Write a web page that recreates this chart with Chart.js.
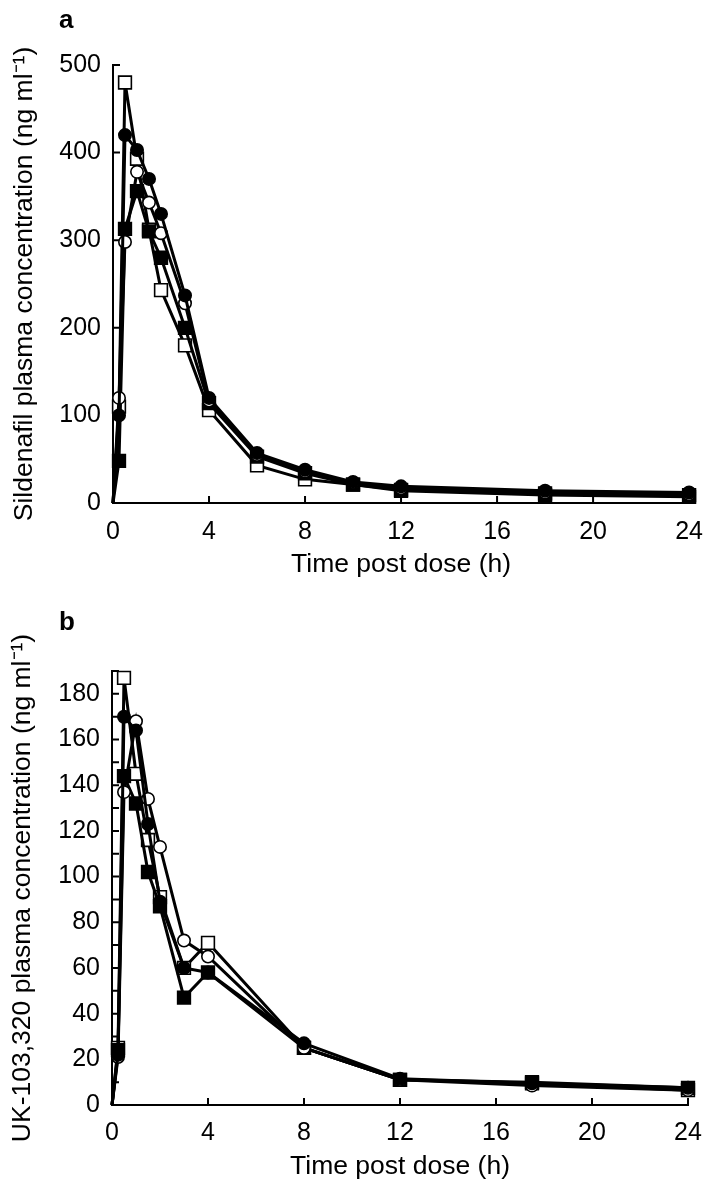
<!DOCTYPE html>
<html><head><meta charset="utf-8">
<script src="https://cdn.jsdelivr.net/npm/chart.js@4.4.1/dist/chart.umd.min.js"></script>
<style>
html,body{margin:0;padding:0;background:#fff;}
#wrap{position:relative;width:717px;height:1184px;overflow:hidden;}
.panel{position:absolute;left:0;width:717px;}
.lbl{position:absolute;font-family:"Liberation Sans",Arial,sans-serif;font-weight:bold;font-size:26px;color:#000;line-height:1;}
</style></head><body>
<div id="wrap">
<div class="panel" style="top:0;height:600px"><canvas id="ca" width="717" height="600"></canvas></div>
<div class="panel" style="top:600px;height:584px"><canvas id="cb" width="717" height="584"></canvas></div>
<div class="lbl" style="left:59px;top:6px">a</div>
<div class="lbl" style="left:59px;top:608px">b</div>
</div>
<script>
// ---- Panel a: sildenafil ----
const timeA = [0, 0.25, 0.5, 1, 1.5, 2, 3, 4, 6, 8, 10, 12, 18, 24];
const sildFilledCircle = [0, 100, 420, 403, 370, 330, 237, 120, 57, 38, 24, 19, 14, 12];
const sildOpenCircle   = [0, 120, 298, 378, 343, 308, 228, 117, 55, 36, 23, 17, 12, 10];
const sildFilledSquare = [0, 48, 313, 356, 310, 280, 200, 114, 53, 34, 21, 14, 9, 7];
const sildOpenSquare   = [0, 110, 480, 393, 312, 243, 180, 106, 43, 27, 21, 15, 11, 9];
// ---- Panel b: UK-103,320 ----
const timeB = [0, 0.25, 0.5, 1, 1.5, 2, 3, 4, 8, 12, 17.5, 24];
const ukFilledCircle = [0, 22, 170, 164, 123, 89, 60, 58, 27, 11.5, 9.5, 7.5];
const ukOpenCircle   = [0, 21, 137, 168, 134, 113, 72, 65, 25, 11, 8.5, 6.5];
const ukFilledSquare = [0, 24, 144, 132, 102, 87, 47, 58, 25, 11, 10, 7.5];
const ukOpenSquare   = [0, 25, 187, 145, 116, 91, 60, 71, 25, 11, 9.5, 6.5];
// ---- axes ----
const xTickValues = [0, 4, 8, 12, 16, 20, 24];
const yTicksA = [0, 100, 200, 300, 400, 500];
const yTicksB = [0, 20, 40, 60, 80, 100, 120, 140, 160, 180];
const xTitle = 'Time post dose (h)';
const yTitleA = 'Sildenafil plasma concentration (ng ml\u207B\u00B9)';
const yTitleB = 'UK-103,320 plasma concentration (ng ml\u207B\u00B9)';

const FONT = '"Liberation Sans", Arial, Helvetica, sans-serif';

function pts(t, v) { return t.map((x, i) => ({x: x, y: v[i]})); }
function radii(n, r) { return Array.from({length: n}, (_, i) => i === 0 ? 0 : r); }

function makeSets(t, fc, oc, fs, os) {
  const n = t.length;
  const base = {borderColor: '#000', borderWidth: 3, tension: 0, clip: false,
                pointBorderColor: '#000', pointBorderWidth: 1.6, pointHoverRadius: 0};
  return [
    Object.assign({}, base, {label: 'filled circle', data: pts(t, fc), pointStyle: 'circle',
      pointRadius: radii(n, 6.2), pointBackgroundColor: '#000', order: 1}),
    Object.assign({}, base, {label: 'open circle', data: pts(t, oc), pointStyle: 'circle',
      pointRadius: radii(n, 6.2), pointBackgroundColor: '#fff', order: 2}),
    Object.assign({}, base, {label: 'filled square', data: pts(t, fs), pointStyle: 'rect',
      pointRadius: radii(n, 9), pointBackgroundColor: '#000', order: 3}),
    Object.assign({}, base, {label: 'open square', data: pts(t, os), pointStyle: 'rect',
      pointRadius: radii(n, 9), pointBackgroundColor: '#fff', order: 4})
  ];
}

const axesPlugin = {
  id: 'inwardAxes',
  beforeDatasetsDraw(chart) {
    const ctx = chart.ctx, xs = chart.scales.x, ys = chart.scales.y;
    const ca = chart.chartArea;
    const L = 7;
    ctx.save();
    ctx.strokeStyle = '#000';
    ctx.lineWidth = 2;
    ctx.lineCap = 'square';
    ctx.beginPath();
    ctx.moveTo(ca.left, ys.getPixelForValue(ys.max));
    ctx.lineTo(ca.left, ca.bottom);
    ctx.lineTo(xs.getPixelForValue(xs.max), ca.bottom);
    ctx.stroke();
    ctx.lineCap = 'butt';
    ctx.beginPath();
    xs.ticks.forEach(tk => {
      if (tk.value === 0) return;
      const px = xs.getPixelForValue(tk.value);
      ctx.moveTo(px, ca.bottom);
      ctx.lineTo(px, ca.bottom - L);
    });
    ys.ticks.forEach(tk => {
      if (tk.value === 0) return;
      const py = ys.getPixelForValue(tk.value);
      ctx.moveTo(ca.left, py);
      ctx.lineTo(ca.left + L, py);
    });
    ctx.stroke();
    ctx.restore();
  }
};

function makeChart(id, sets, yMax, yStep, yLabelList, yTitle, geo) {
  return new Chart(document.getElementById(id), {
    type: 'line',
    data: {datasets: sets},
    plugins: [axesPlugin],
    options: {
      responsive: false,
      animation: false,
      events: [],
      layout: {padding: {top: geo.top, right: geo.right, left: 0, bottom: 0}},
      plugins: {legend: {display: false}, tooltip: {enabled: false}},
      scales: {
        x: {
          type: 'linear', min: 0, max: 24,
          afterBuildTicks: s => { s.ticks = xTickValues.map(v => ({value: v})); },
          afterFit: s => { s.height = geo.xh; },
          grid: {display: false, drawTicks: false},
          border: {display: false},
          ticks: {color: '#000', padding: geo.xpad, maxRotation: 0, autoSkip: false,
                  font: {family: FONT, size: 25}},
          title: {display: true, text: xTitle, color: '#000', padding: {top: 0, bottom: geo.xtb},
                  font: {family: FONT, size: 26.5}}
        },
        y: {
          type: 'linear', min: 0, max: yMax,
          ticks: {stepSize: yStep, color: '#000', padding: 12, autoSkip: false,
                  font: {family: FONT, size: 25},
                  callback: v => yLabelList.includes(v) ? String(v) : ''},
          afterFit: s => { s.width = geo.yw; },
          grid: {display: false, drawTicks: false},
          border: {display: false},
          title: {display: true, text: yTitle, color: '#000', padding: {top: geo.ytp, bottom: 0},
                  font: {family: FONT, size: 26.5}}
        }
      }
    }
  });
}

makeChart('ca', makeSets(timeA, sildFilledCircle, sildOpenCircle, sildFilledSquare, sildOpenSquare),
  500, 100, yTicksA, yTitleA, {top: 65, right: 22, xh: 97, xpad: 14, xtb: 19, yw: 113, ytp: 9});
makeChart('cb', makeSets(timeB, ukFilledCircle, ukOpenCircle, ukFilledSquare, ukOpenSquare),
  190, 10, yTicksB, yTitleB, {top: 71, right: 29, xh: 79, xpad: 13, xtb: 1, yw: 112, ytp: 7});
</script>
</body></html>
